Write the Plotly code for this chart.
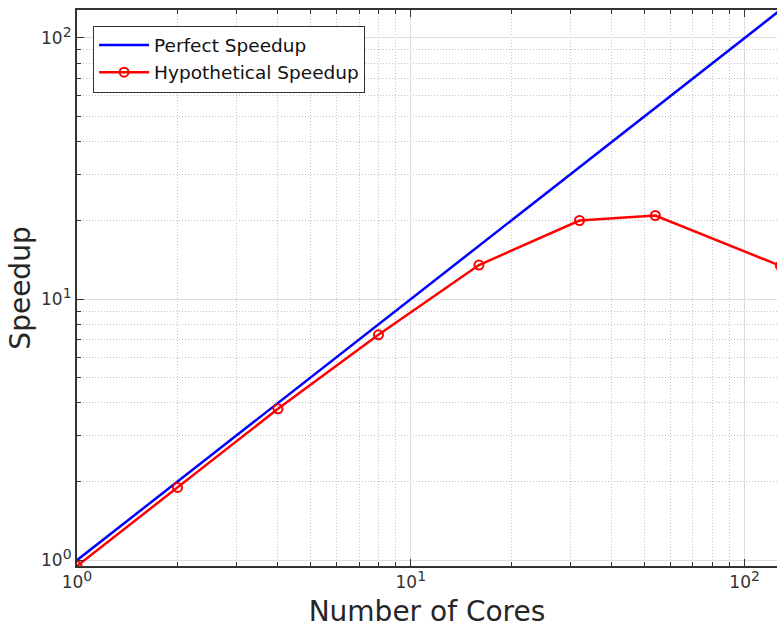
import numpy as np
import plotly.graph_objects as go

cores = [1, 2, 4, 8, 16, 32, 64, 128]
perfect = [1, 2, 4, 8, 16, 32, 64, 128]
hyp_cores = [1, 2, 4, 8, 16, 32, 54, 128]
hyp_speedup = [0.95, 1.9, 3.8, 7.3, 13.5, 20.0, 20.9, 13.4]

major_vals = [1, 10, 100]
exponents = ["0", "1", "2"]
minor_vals = [2, 3, 4, 5, 6, 7, 8, 9, 20, 30, 40, 50, 60, 70, 80, 90]

FONT = "DejaVu Sans"
AX = "#333333"

major_text = ["10<sup><span style='font-size:14px'>%s</span></sup>" % e for e in exponents]

fig = go.Figure()
fig.add_trace(go.Scatter(x=cores, y=perfect, mode="lines", name="Perfect Speedup",
                         line=dict(color="#0000ff", width=2.5)))
fig.add_trace(go.Scatter(x=hyp_cores, y=hyp_speedup, mode="lines+markers",
                         name="Hypothetical Speedup",
                         line=dict(color="#ff0000", width=2.5),
                         marker=dict(symbol="circle-open", size=9, color="#ff0000",
                                     line=dict(width=2, color="#ff0000"))))

axis_common = dict(
    type="log",
    tickmode="array",
    tickvals=major_vals,
    ticktext=major_text,
    ticks="inside",
    ticklen=7,
    tickcolor=AX,
    tickwidth=1,
    showline=True,
    linecolor=AX,
    linewidth=2,
    showgrid=True,
    gridcolor="#dedede",
    gridwidth=1,
    zeroline=False,
    tickfont=dict(family=FONT, size=17, color="#333333"),
    minor=dict(tickvals=minor_vals, ticks="inside", ticklen=4, tickcolor=AX,
               showgrid=True, gridcolor="#c4c4c4", griddash="1px,2px", gridwidth=1),
)

fig.update_xaxes(**axis_common, mirror="ticks", range=[0, np.log10(125)],
                 title=dict(text="Number of Cores", font=dict(family=FONT, size=28, color="#262626"),
                            standoff=16))
fig.update_yaxes(**axis_common, mirror=False, range=[np.log10(0.95), np.log10(128)],
                 title=dict(text="Speedup", font=dict(family=FONT, size=28, color="#262626"),
                            standoff=2))

fig.update_layout(
    width=777, height=628,
    margin=dict(l=77, r=0, t=10, b=62),
    plot_bgcolor="white",
    paper_bgcolor="white",
    font=dict(family=FONT),
    legend=dict(x=0.023, y=0.972, xanchor="left", yanchor="top",
                bgcolor="white", bordercolor=AX, borderwidth=1,
                font=dict(family=FONT, size=18.5, color="#111111"),
                itemwidth=50, tracegroupgap=0),
)

fig.write_html("out.html")
